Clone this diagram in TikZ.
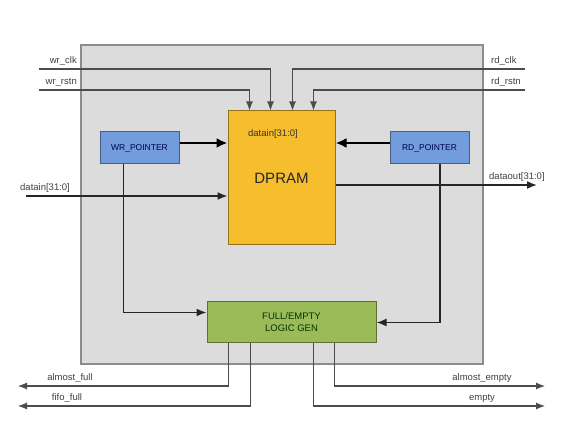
\documentclass[tikz,border=0pt]{standalone}
\usepackage{fontspec}
\setmainfont{Liberation Sans}
\usetikzlibrary{arrows.meta}
\definecolor{chipgray}{HTML}{DCDCDC}
\definecolor{ramfill}{HTML}{F6BE2C}
\definecolor{ptrfill}{HTML}{739CDC}
\definecolor{logicfill}{HTML}{9BBB59}

\begin{document}
\begin{tikzpicture}[x=1pt,y=-1pt,
	lbl/.style={font=\fontsize{9.5}{10}\selectfont,text=black!75,inner sep=1pt},
	sig/.style={draw=black!70,line width=1.1pt,-{Latex[length=9pt,width=7pt]}},
	bus/.style={draw=black!85,line width=1.6pt,-{Latex[length=10pt,width=8pt]}},
	wide/.style={draw=black,line width=2.4pt,-{Latex[length=11pt,width=10pt]}},
	ptr/.style={draw=ptrfill!60!black,fill=ptrfill,line width=1pt,minimum width=79pt,minimum height=32pt,font=\fontsize{8.5}{9}\selectfont,text=blue!30!black}]
	\useasboundingbox (0,0) rectangle (576,427);
	\draw[fill=chipgray,draw=black!45,line width=1.2pt] (81,45) rectangle (483,364);
	\node[draw=ramfill!60!black,fill=ramfill,line width=1pt,minimum width=107pt,minimum height=134pt,font=\fontsize{15}{16}\selectfont,text=black!85] (dpram) at (281.5,178) {DPRAM};
	\node[lbl,text=black!80] (dinlbl) at (273,134) {datain[31:0]};
	\node[ptr] (wrptr) at (139.5,148) {WR\_POINTER};
	\node[ptr] (rdptr) at (429.5,148) {RD\_POINTER};
	\node[draw=logicfill!60!black,fill=logicfill,line width=1pt,minimum width=169pt,minimum height=41pt,align=center,font=\fontsize{9.5}{12}\selectfont,text=green!20!black] (logic) at (291.5,322.5) {FULL/EMPTY\\LOGIC GEN};
	\coordinate (wrclk) at (39,69);
	\coordinate (wrrstn) at (39,90);
	\coordinate (rdclk) at (525,69);
	\coordinate (rdrstn) at (525,90);
	\coordinate (din) at (26,196);
	\coordinate (dout) at (537,185);
	\coordinate (afull) at (18,386);
	\coordinate (ffull) at (18,406);
	\coordinate (aempty) at (545,386);
	\coordinate (empty) at (545,406);
	\node[lbl,anchor=south east] (wrclklbl) at (78,67) {wr\_clk};
	\node[lbl,anchor=south east] (wrrstnlbl) at (78,88) {wr\_rstn};
	\node[lbl,anchor=south west] (rdclklbl) at (490,67) {rd\_clk};
	\node[lbl,anchor=south west] (rdrstnlbl) at (490,88) {rd\_rstn};
	\node[lbl,anchor=south west] (dinname) at (19,194) {datain[31:0]};
	\node[lbl,anchor=south west] (doutname) at (488,183) {dataout[31:0]};
	\node[lbl,anchor=south] (afulllbl) at (70,384) {almost\_full};
	\node[lbl,anchor=south] (ffulllbl) at (67,404) {fifo\_full};
	\node[lbl,anchor=south] (aemptylbl) at (482,384) {almost\_empty};
	\node[lbl,anchor=south] (emptylbl) at (482,404) {empty};
	\draw[sig] (wrclk) -| ([xshift=43pt]dpram.north west);
	\draw[sig] (wrrstn) -| ([xshift=22pt]dpram.north west);
	\draw[sig] (rdclk) -| ([xshift=-43pt]dpram.north east);
	\draw[sig] (rdrstn) -| ([xshift=-22pt]dpram.north east);
	\draw[wide] ([yshift=5pt]wrptr.east) -- ([yshift=5pt]wrptr.east -| dpram.west);
	\draw[wide] ([yshift=5pt]rdptr.west) -- ([yshift=5pt]rdptr.west -| dpram.east);
	\draw[bus] (din) -- (din -| dpram.west);
	\draw[bus] (dpram.east |- dout) -- (dout);
	\draw[bus] ([xshift=-16pt]wrptr.south) |- ([yshift=10pt]logic.west);
	\draw[bus] ([xshift=10.5pt]rdptr.south) |- (logic.east);
	\draw[sig] ([xshift=22pt]logic.south west) |- (afull);
	\draw[sig] ([xshift=44pt]logic.south west) |- (ffull);
	\draw[sig] ([xshift=-42pt]logic.south east) |- (aempty);
	\draw[sig] ([xshift=-63pt]logic.south east) |- (empty);
\end{tikzpicture}
\end{document}
